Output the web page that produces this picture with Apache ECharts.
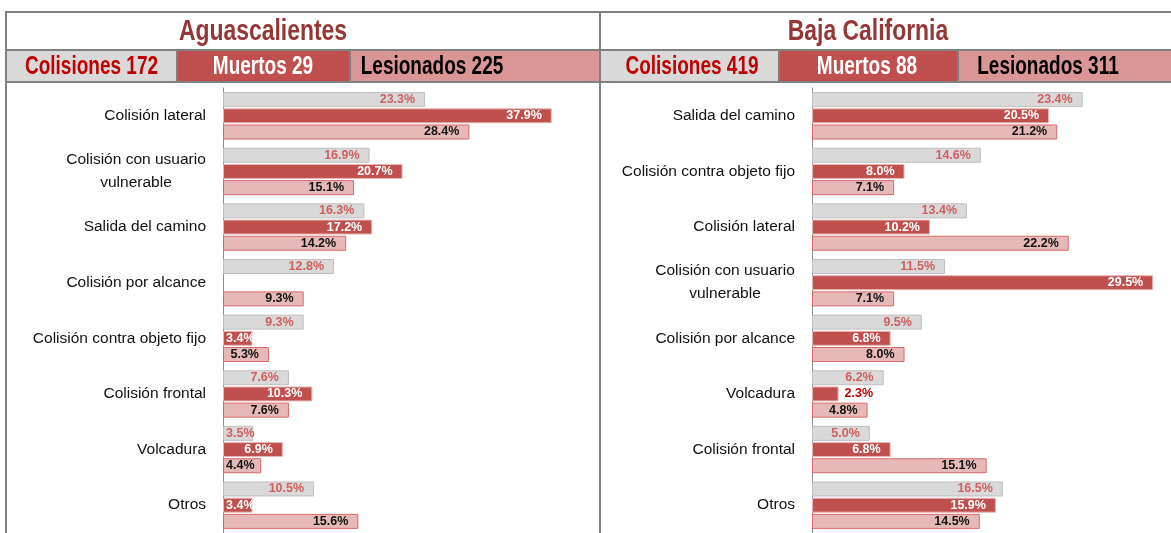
<!DOCTYPE html>
<html>
<head>
<meta charset="utf-8">
<script src="https://cdn.jsdelivr.net/npm/echarts@6/dist/echarts.min.js"></script>
<style>
html, body { margin: 0; padding: 0; background: #fff; }
#main { width: 1171px; height: 533px; }
</style>
</head>
<body>
<div id="main"></div>
<script>
// nombres de las series
var seriesNames = ['Colisiones', 'Muertos', 'Lesionados'];

// Aguascalientes
var agsName = 'Aguascalientes';
var agsTotals = [172, 29, 225];
var agsCategories = ['Colisión lateral', 'Colisión con usuario vulnerable', 'Salida del camino', 'Colisión por alcance', 'Colisión contra objeto fijo', 'Colisión frontal', 'Volcadura', 'Otros'];
var agsColisiones = [23.3, 16.9, 16.3, 12.8, 9.3, 7.6, 3.5, 10.5];
var agsMuertos = [37.9, 20.7, 17.2, 0, 3.4, 10.3, 6.9, 3.4];
var agsLesionados = [28.4, 15.1, 14.2, 9.3, 5.3, 7.6, 4.4, 15.6];

// Baja California
var bcName = 'Baja California';
var bcTotals = [419, 88, 311];
var bcCategories = ['Salida del camino', 'Colisión contra objeto fijo', 'Colisión lateral', 'Colisión con usuario vulnerable', 'Colisión por alcance', 'Volcadura', 'Colisión frontal', 'Otros'];
var bcColisiones = [23.4, 14.6, 13.4, 11.5, 9.5, 6.2, 5.0, 16.5];
var bcMuertos = [20.5, 8.0, 10.2, 29.5, 6.8, 2.3, 6.8, 15.9];
var bcLesionados = [21.2, 7.1, 22.2, 7.1, 8.0, 4.8, 15.1, 14.5];

var sans = "'Liberation Sans', Arial, sans-serif";
var fills = ['#d9d9d9', '#c0504d', '#e6b9b8'];
var borders = ['#bfbfbf', '#e6b9b8', '#d9696a'];
var labelColors = ['#d05f5f', '#ffffff', '#111111'];
var headFills = ['#d9d9d9', '#c0504d', '#da9694'];
var headColors = ['#c00000', '#ffffff', '#000000'];

var chart = echarts.init(document.getElementById('main'));

function catLabel(v) {
    if (v.length > 28) {
        var i = v.lastIndexOf(' ', 20);
        return '{c|' + v.slice(0, i) + '}\n{c|' + v.slice(i + 1) + '}';
    }
    return v;
}

// etiquetas: chicas se corren a la izquierda, muy chicas van afuera
function barData(arr) {
    return arr.map(function (v) {
        if (!v) return { value: v, itemStyle: { borderWidth: 0 }, label: { show: false } };
        if (v < 3) return { value: v, label: { position: 'right', distance: 6, color: '#c00000' } };
        if (v < 4.5) return { value: v, label: { position: 'insideLeft', distance: 3 } };
        return v;
    });
}

function makeSeries(idx, cols, muer, les) {
    return [cols, muer, les].map(function (arr, k) {
        return {
            name: seriesNames[k],
            type: 'bar',
            xAxisIndex: idx,
            yAxisIndex: idx,
            barWidth: 15,
            barGap: '8%',
            data: barData(arr),
            itemStyle: { color: fills[k], borderColor: borders[k], borderWidth: 1 },
            label: {
                show: true,
                position: 'insideRight',
                distance: 10,
                color: labelColors[k],
                fontFamily: sans,
                fontWeight: 'bold',
                fontSize: 12.5,
                formatter: function (p) { return p.value.toFixed(1) + '%'; }
            },
            silent: true,
            animation: false
        };
    });
}

function yAxisFor(idx, cats) {
    return {
        type: 'category',
        gridIndex: idx,
        inverse: true,
        data: cats,
        axisLine: { lineStyle: { color: '#8c8c8c', width: 1 } },
        axisTick: { length: 5, lineStyle: { color: '#8c8c8c' } },
        axisLabel: {
            margin: 17,
            fontSize: 15.5,
            fontFamily: sans,
            color: '#111',
            lineHeight: 23,
            formatter: catLabel,
            rich: { c: { width: 140, align: 'center', fontSize: 15.5, lineHeight: 23, color: '#111', fontFamily: sans } }
        }
    };
}

function xAxisFor(idx, max) {
    return { type: 'value', gridIndex: idx, min: 0, max: max, show: false };
}

// marco, encabezados y titulos
var g = [];
function rect(x, y, w, h, c) {
    g.push({ type: 'rect', shape: { x: x, y: y, width: w, height: h }, style: { fill: c }, silent: true });
}
function line(x1, y1, x2, y2) {
    g.push({ type: 'line', shape: { x1: x1, y1: y1, x2: x2, y2: y2 }, style: { stroke: '#808080', lineWidth: 2 }, silent: true, z: 10 });
}
// texto angosto: Liberation Sans bold comprimido en x
function text(t, x, y, size, c, sx) {
    g.push({
        type: 'text', x: x, y: y, scaleX: sx, silent: true, z: 11,
        style: { text: t, x: 0, y: 0, fill: c, font: 'bold ' + size + 'px ' + sans, textAlign: 'center', textVerticalAlign: 'middle' }
    });
}

var boxesAgs = [[6, 177, 91.5], [177, 350, 263], [350, 600, 432]];
var boxesBc = [[600, 779, 692], [779, 958, 867], [958, 1171, 1048]];
[[boxesAgs, agsTotals], [boxesBc, bcTotals]].forEach(function (b) {
    b[0].forEach(function (box, k) {
        rect(box[0], 50, box[1] - box[0], 32, headFills[k]);
        text(seriesNames[k] + ' ' + b[1][k], box[2], 67, 25, headColors[k], 0.76);
        if (k > 0) line(box[0], 50, box[0], 82);
    });
});
line(6, 12, 1171, 12);
line(6, 50, 1171, 50);
line(6, 82, 1171, 82);
line(6, 11, 6, 533);
line(600, 11, 600, 533);
text(agsName, 263, 32, 29, '#953735', 0.79);
text(bcName, 868, 32, 29, '#953735', 0.79);

chart.setOption({
    animation: false,
    grid: [
        { left: 223, top: 88, width: 347, height: 445 },
        { left: 812, top: 88, width: 347, height: 450 }
    ],
    xAxis: [xAxisFor(0, 40), xAxisFor(1, 30)],
    yAxis: [yAxisFor(0, agsCategories), yAxisFor(1, bcCategories)],
    series: makeSeries(0, agsColisiones, agsMuertos, agsLesionados)
        .concat(makeSeries(1, bcColisiones, bcMuertos, bcLesionados)),
    graphic: g
});
</script>
</body>
</html>
